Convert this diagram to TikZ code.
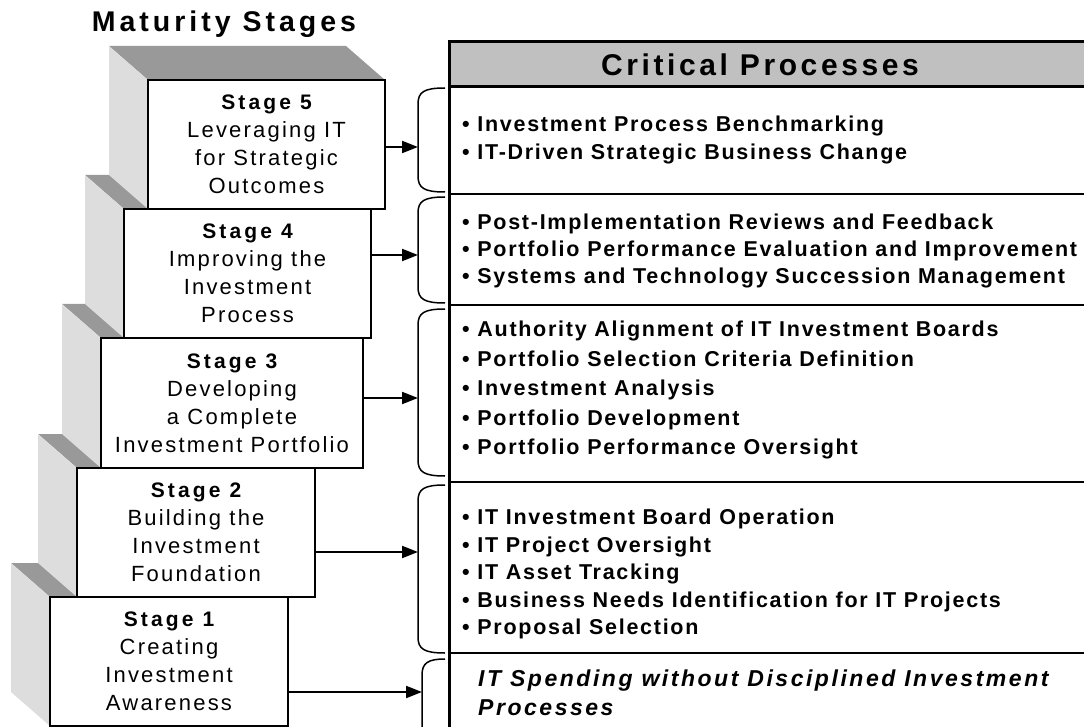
\documentclass[tikz,border=0pt]{standalone}
\usepackage{fontspec}
\setmainfont{Liberation Sans}
\newfontfamily\stagefont[LetterSpace=10]{Liberation Sans}
\newfontfamily\stagehead[LetterSpace=15]{Liberation Sans}
\newfontfamily\itemfont[LetterSpace=8]{Liberation Sans}
\newfontfamily\slantfont[LetterSpace=11]{Liberation Sans}
\newfontfamily\titlefont[LetterSpace=12]{Liberation Sans}
\newfontfamily\bigtitle[LetterSpace=14]{Liberation Sans}
\usetikzlibrary{arrows.meta}
\definecolor{topgray}{HTML}{999999}
\definecolor{sidegray}{HTML}{DDDDDD}
\definecolor{headgray}{HTML}{C0C0C0}
\newcommand{\sthead}[1]{{\stagehead\bfseries\fontsize{21}{28}\selectfont #1}}

\begin{document}
\begin{tikzpicture}[x=1pt, y=-1pt,
	stagebox/.style={draw, line width=2pt, fill=white, outer sep=0pt, inner sep=0pt, anchor=north west, align=center, font=\stagefont\fontsize{22}{28}\selectfont},
	link/.style={line width=2pt, -{Triangle[length=16pt, width=12pt]}},
	brace/.style={line width=1.5pt},
	items/.style={anchor=west, align=left, inner sep=0pt, font=\itemfont\bfseries\fontsize{21.5}{28}\selectfont}]
	\useasboundingbox (0,0) rectangle (1084,727);
	\node[font=\bigtitle\bfseries\fontsize{28.5}{30}\selectfont] (title) at (224,24) {Maturity Stages};

	\fill[topgray] (50,597) -- (11,563) -- (249,563) -- (288,597) -- cycle;
	\fill[sidegray] (50,597) -- (11,563) -- (11,692) -- (50,726) -- cycle;
	\node[stagebox, minimum width=238, minimum height=129] (s1) at (50,597) {\sthead{Stage 1}\\Creating\\Investment\\Awareness};
	\fill[topgray] (77,468) -- (38,434) -- (276,434) -- (315,468) -- cycle;
	\fill[sidegray] (77,468) -- (38,434) -- (38,563) -- (77,597) -- cycle;
	\node[stagebox, minimum width=238, minimum height=129] (s2) at (77,468) {\sthead{Stage 2}\\Building the\\Investment\\Foundation};
	\fill[topgray] (101,338) -- (62,304) -- (324,304) -- (363,338) -- cycle;
	\fill[sidegray] (101,338) -- (62,304) -- (62,434) -- (101,468) -- cycle;
	\node[stagebox, minimum width=262, minimum height=130] (s3) at (101,338) {\sthead{Stage 3}\\Developing\\a Complete\\Investment Portfolio};
	\fill[topgray] (124,209) -- (85,175) -- (332,175) -- (371,209) -- cycle;
	\fill[sidegray] (124,209) -- (85,175) -- (85,304) -- (124,338) -- cycle;
	\node[stagebox, minimum width=247, minimum height=129] (s4) at (124,209) {\sthead{Stage 4}\\Improving the\\Investment\\Process};
	\fill[topgray] (148,80) -- (109,46) -- (346,46) -- (385,80) -- cycle;
	\fill[sidegray] (148,80) -- (109,46) -- (109,175) -- (148,209) -- cycle;
	\node[stagebox, minimum width=237, minimum height=129] (s5) at (148,80) {\sthead{Stage 5}\\Leveraging IT\\for Strategic\\Outcomes};

	\fill[headgray] (449,42) rectangle (1084,87);
	\draw[line width=3pt] (1084,42) -- (449,42) -- (449,730);
	\draw[line width=3pt] (449,87) -- (1084,87);
	\draw[line width=2pt] (449,194) -- (1084,194);
	\draw[line width=2pt] (449,305) -- (1084,305);
	\draw[line width=2pt] (449,482) -- (1084,482);
	\draw[line width=2pt] (449,653) -- (1084,653);
	\node[font=\titlefont\bfseries\fontsize{30}{32}\selectfont] (crit) at (760,65) {Critical Processes};

	\node[items] (p5) at (462,140) {\textbullet\ Investment Process Benchmarking\\\textbullet\ IT-Driven Strategic Business Change};
	\node[items, font=\itemfont\bfseries\fontsize{21.5}{27}\selectfont] (p4) at (462,251) {\textbullet\ Post-Implementation Reviews and Feedback\\\textbullet\ Portfolio Performance Evaluation and Improvement\\\textbullet\ Systems and Technology Succession Management};
	\node[items, font=\itemfont\bfseries\fontsize{21.5}{29.5}\selectfont] (p3) at (462,390) {\textbullet\ Authority Alignment of IT Investment Boards\\\textbullet\ Portfolio Selection Criteria Definition\\\textbullet\ Investment Analysis\\\textbullet\ Portfolio Development\\\textbullet\ Portfolio Performance Oversight};
	\node[items, font=\itemfont\bfseries\fontsize{21.5}{27.5}\selectfont] (p2) at (462,574) {\textbullet\ IT Investment Board Operation\\\textbullet\ IT Project Oversight\\\textbullet\ IT Asset Tracking\\\textbullet\ Business Needs Identification for IT Projects\\\textbullet\ Proposal Selection};
	\node[items, font=\slantfont\bfseries\itshape\fontsize{23}{29}\selectfont] (p1) at (478,693) {IT Spending without Disciplined Investment\\Processes};

	\draw[brace] (445,88) .. controls (424,88) and (418,92) .. (418,104) -- (418,176) .. controls (418,188) and (424,192) .. (445,192);
	\draw[brace] (445,197) .. controls (424,197) and (418,201) .. (418,213) -- (418,287) .. controls (418,299) and (424,303) .. (445,303);
	\draw[brace] (445,309) .. controls (424,309) and (418,313) .. (418,325) -- (418,460) .. controls (418,472) and (424,476) .. (445,476);
	\draw[brace] (445,485) .. controls (424,485) and (418,489) .. (418,501) -- (418,637) .. controls (418,649) and (424,653) .. (445,653);
	\draw[brace] (445,659) .. controls (428,659) and (422,663) .. (422,675) -- (422,730);

	\coordinate (b5) at (418,147);
	\coordinate (b4) at (418,255);
	\coordinate (b3) at (418,398);
	\coordinate (b2) at (418,552);
	\coordinate (b1) at (422,692);
	\draw[link] (s5.east |- b5) -- (b5);
	\draw[link] (s4.east |- b4) -- (b4);
	\draw[link] (s3.east |- b3) -- (b3);
	\draw[link] (s2.east |- b2) -- (b2);
	\draw[link] (s1.east |- b1) -- (b1);
\end{tikzpicture}
\end{document}
